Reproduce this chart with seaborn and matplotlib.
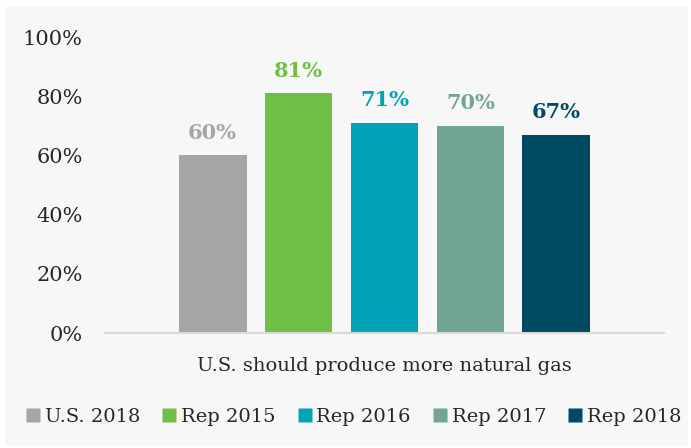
import matplotlib
matplotlib.use("Agg")
import matplotlib.pyplot as plt
from matplotlib.patches import Rectangle
from matplotlib.lines import Line2D
import seaborn as sns
import pandas as pd

# Survey data
category = "U.S. should produce more natural gas"
series = ["U.S. 2018", "Rep 2015", "Rep 2016", "Rep 2017", "Rep 2018"]
values = [60, 81, 71, 70, 67]
colors = ["#a5a5a5", "#70bf45", "#00a4b6", "#72a692", "#004a62"]
y_ticks = [0, 20, 40, 60, 80, 100]

df = pd.DataFrame({"question": [category] * len(series),
                   "group": series,
                   "pct": values})

sns.set_style("white")
plt.rcParams["font.family"] = ["DejaVu Serif"]
text_color = "#262626"
bg = "#f7f7f7"

fig = plt.figure(figsize=(6.91, 4.48), dpi=100, facecolor="white")
W, H = 691, 448
fig.patches.append(Rectangle((5 / W, 2 / H), 683 / W, 439 / H,
                             transform=fig.transFigure, facecolor=bg,
                             edgecolor="none", zorder=-10))

ax = fig.add_axes([105 / W, (H - 333) / H, 559 / W, 296 / H])
ax.set_facecolor("none")
ax.set_zorder(1)

sns.barplot(data=df, x="question", y="pct", hue="group", hue_order=series,
            palette=colors, width=0.769, gap=0.21, saturation=1,
            linewidth=0, legend=False, ax=ax)

for cont, col in zip(ax.containers, colors):
    ax.bar_label(cont, labels=[f"{v:.0f}%" for v in cont.datavalues],
                 color=col, fontsize=15, fontweight="bold", padding=9)

ax.set_xlim(-0.5, 0.5)
ax.set_ylim(0, 100)
ax.set_yticks(y_ticks)
ax.set_yticklabels([f"{t}%" for t in y_ticks])
ax.tick_params(axis="y", length=0, pad=16, labelsize=15, labelcolor=text_color)
ax.tick_params(axis="x", length=0, pad=17, labelsize=14, labelcolor=text_color)
ax.set_xlabel("")
ax.set_ylabel("")
for s in ["top", "right", "left"]:
    ax.spines[s].set_visible(False)
ax.spines["bottom"].set_color("#d9d9d9")
ax.spines["bottom"].set_linewidth(1.5)

handles = [Line2D([], [], marker="s", linestyle="none", markersize=9.4,
                  markerfacecolor=c, markeredgecolor="none") for c in colors]
fig.legend(handles, series, loc="center", bbox_to_anchor=(354.5 / W, (H - 417) / H),
           ncol=5, frameon=False, fontsize=14, handlelength=0.6,
           handletextpad=0.3, columnspacing=1.2, labelcolor=text_color)

fig.savefig("out.png", dpi=100, facecolor="white")
